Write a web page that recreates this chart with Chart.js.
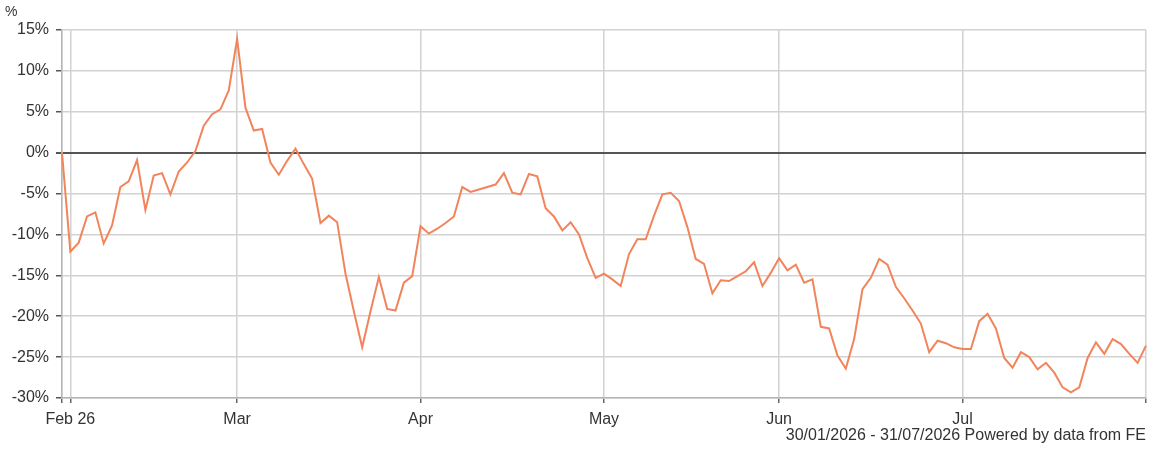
<!DOCTYPE html>
<html>
<head>
<meta charset="utf-8">
<script src="https://cdn.jsdelivr.net/npm/chart.js@4/dist/chart.umd.min.js"></script>
<style>
    html, body { margin: 0; padding: 0; background: #fff; }
    #wrap { width: 1158px; height: 466px; position: relative; }
</style>
</head>
<body>
<div id="wrap"><canvas id="perfChart"></canvas></div>
<script>
// ── Данные (рабочие дни 30/01/2026 – 31/07/2026)
const DATES = [
    '2026-01-30',
    '2026-02-02', '2026-02-03', '2026-02-04', '2026-02-05', '2026-02-06',
    '2026-02-09', '2026-02-10', '2026-02-11', '2026-02-12', '2026-02-13',
    '2026-02-16', '2026-02-17', '2026-02-18', '2026-02-19', '2026-02-20',
    '2026-02-23', '2026-02-24', '2026-02-25', '2026-02-26', '2026-02-27',
    '2026-03-02', '2026-03-03', '2026-03-04', '2026-03-05', '2026-03-06',
    '2026-03-09', '2026-03-10', '2026-03-11', '2026-03-12', '2026-03-13',
    '2026-03-16', '2026-03-17', '2026-03-18', '2026-03-19', '2026-03-20',
    '2026-03-23', '2026-03-24', '2026-03-25', '2026-03-26', '2026-03-27',
    '2026-03-30', '2026-03-31',
    '2026-04-01', '2026-04-02', '2026-04-03',
    '2026-04-06', '2026-04-07', '2026-04-08', '2026-04-09', '2026-04-10',
    '2026-04-13', '2026-04-14', '2026-04-15', '2026-04-16', '2026-04-17',
    '2026-04-20', '2026-04-21', '2026-04-22', '2026-04-23', '2026-04-24',
    '2026-04-27', '2026-04-28', '2026-04-29', '2026-04-30',
    '2026-05-01',
    '2026-05-04', '2026-05-05', '2026-05-06', '2026-05-07', '2026-05-08',
    '2026-05-11', '2026-05-12', '2026-05-13', '2026-05-14', '2026-05-15',
    '2026-05-18', '2026-05-19', '2026-05-20', '2026-05-21', '2026-05-22',
    '2026-05-25', '2026-05-26', '2026-05-27', '2026-05-28', '2026-05-29',
    '2026-06-01', '2026-06-02', '2026-06-03', '2026-06-04', '2026-06-05',
    '2026-06-08', '2026-06-09', '2026-06-10', '2026-06-11', '2026-06-12',
    '2026-06-15', '2026-06-16', '2026-06-17', '2026-06-18', '2026-06-19',
    '2026-06-22', '2026-06-23', '2026-06-24', '2026-06-25', '2026-06-26',
    '2026-06-29', '2026-06-30',
    '2026-07-01', '2026-07-02', '2026-07-03',
    '2026-07-06', '2026-07-07', '2026-07-08', '2026-07-09', '2026-07-10',
    '2026-07-13', '2026-07-14', '2026-07-15', '2026-07-16', '2026-07-17',
    '2026-07-20', '2026-07-21', '2026-07-22', '2026-07-23', '2026-07-24',
    '2026-07-27', '2026-07-28', '2026-07-29', '2026-07-30', '2026-07-31'
];

const RETURNS = [
      0.0, -12.1, -11.0,  -7.8,  -7.3, -11.1,  -8.9,  -4.2,  -3.5,  -0.9,
     -7.0,  -2.8,  -2.5,  -5.1,  -2.3,  -1.2,   0.2,   3.3,   4.7,   5.3,
      7.6,  13.9,   5.5,   2.7,   2.9,  -1.2,  -2.7,  -1.0,   0.5,  -1.4,
     -3.2,  -8.6,  -7.7,  -8.5, -14.8, -19.4, -23.8, -19.4, -15.2, -19.1,
    -19.3, -15.9, -15.1,  -9.0,  -9.9,  -9.3,  -8.6,  -7.8,  -4.2,  -4.8,
     -4.5,  -4.2,  -3.9,  -2.5,  -4.9,  -5.1,  -2.6,  -2.9,  -6.8,  -7.8,
     -9.5,  -8.5, -10.0, -12.9, -15.3, -14.8, -15.5, -16.3, -12.4, -10.6,
    -10.6,  -7.7,  -5.1,  -4.9,  -5.9,  -9.1, -13.0, -13.6, -17.2, -15.6,
    -15.7, -15.1, -14.5, -13.4, -16.3, -14.7, -12.9, -14.4, -13.7, -15.9,
    -15.5, -21.3, -21.5, -24.8, -26.4, -22.8, -16.7, -15.3, -13.0, -13.7,
    -16.4, -17.8, -19.3, -20.9, -24.4, -23.0, -23.3, -23.8, -24.0, -24.0,
    -20.6, -19.7, -21.5, -25.1, -26.3, -24.4, -25.0, -26.5, -25.7, -26.9,
    -28.7, -29.3, -28.7, -25.1, -23.2, -24.6, -22.8, -23.4, -24.6, -25.7,
    -23.6
];

// Подписи месяцев и даты, на которых они стоят
const MONTH_DATES  = ['2026-02-02', '2026-03-02', '2026-04-01', '2026-05-01', '2026-06-01', '2026-07-01'];
const MONTH_LABELS = ['Feb 26', 'Mar', 'Apr', 'May', 'Jun', 'Jul'];

const Y_MIN  = -30;
const Y_MAX  = 15;
const Y_STEP = 5;

const FOOTER_TEXT = '30/01/2026 - 31/07/2026 Powered by data from FE';

// ── Оформление
const FONT_FAMILY = '"Liberation Sans", Arial, sans-serif';
const TEXT_COLOR  = '#333333';
const GRID_COLOR  = '#d2d2d2';
const ZERO_COLOR  = '#555555';
const LINE_COLOR  = '#f2845c';

// индексы для вертикальных линий: начало, первые дни месяцев, конец
const monthIdx = MONTH_DATES.map(d => DATES.indexOf(d));
const tickIdx  = [0, ...monthIdx, DATES.length - 1];

// Подписи вне осей: "%" сверху и строка источника снизу
const extraText = {
    id: 'extraText',
    afterDraw(chart) {
        const c = chart.ctx;
        c.save();
        c.fillStyle    = TEXT_COLOR;
        c.textBaseline = 'middle';
        c.font         = '14px ' + FONT_FAMILY;
        c.textAlign    = 'left';
        c.fillText('%', 5, 12);
        c.font         = '16px ' + FONT_FAMILY;
        c.textAlign    = 'right';
        c.fillText(FOOTER_TEXT, chart.chartArea.right, 436);
        c.restore();
    }
};

new Chart(document.getElementById('perfChart').getContext('2d'), {
    type: 'line',
    data: {
        labels: DATES,
        datasets: [{
            data:        RETURNS,
            borderColor: LINE_COLOR,
            borderWidth: 2,
            pointRadius: 0,
            tension:     0,
            fill:        false
        }]
    },
    options: {
        responsive:          true,
        maintainAspectRatio: false,
        animation:           false,
        layout: { padding: { left: 0, right: 12, top: 30, bottom: 0 } },
        plugins: {
            legend:  { display: false },
            tooltip: { enabled: false }
        },
        scales: {
            x: {
                type:   'category',
                offset: false,
                afterBuildTicks: (s) => { s.ticks = tickIdx.map(v => ({ value: v })); },
                afterFit:        (s) => { s.height = 68; },
                grid:   { color: GRID_COLOR, lineWidth: 1.5, tickColor: '#666', tickLength: 5 },
                border: { color: '#b5b5b5', width: 1.5 },
                ticks: {
                    autoSkip:    false,
                    maxRotation: 0,
                    padding:     7,
                    color:       TEXT_COLOR,
                    font:        { family: FONT_FAMILY, size: 16 },
                    callback:    (v) => {
                        const k = monthIdx.indexOf(v);
                        return k >= 0 ? MONTH_LABELS[k] : '';
                    }
                }
            },
            y: {
                min: Y_MIN,
                max: Y_MAX,
                afterFit: (s) => { s.width = 62; },
                grid: {
                    color:     (ctx) => ctx.tick && ctx.tick.value === 0 ? ZERO_COLOR : GRID_COLOR,
                    lineWidth: (ctx) => ctx.tick && ctx.tick.value === 0 ? 2 : 1.5,
                    tickColor: '#555',
                    tickLength: 6
                },
                border: { color: '#b5b5b5', width: 1.5 },
                ticks: {
                    stepSize: Y_STEP,
                    padding:  7,
                    color:    TEXT_COLOR,
                    font:     { family: FONT_FAMILY, size: 16 },
                    callback: (v) => v + '%'
                }
            }
        }
    },
    plugins: [extraText]
});
</script>
</body>
</html>
